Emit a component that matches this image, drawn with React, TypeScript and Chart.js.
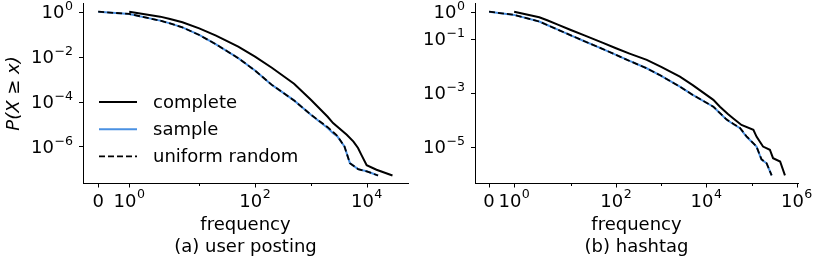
import React, { useEffect, useRef } from 'react';
import { Chart, registerables, LinearScale } from 'chart.js';

Chart.register(...registerables);

// ---------- data ----------
// (a) user posting
const A_COMPLETE_X = [1, 2, 3, 5, 10, 20, 50, 100, 200, 500, 1000, 2000, 2500, 4400, 5800, 7000, 8000, 10000, 15000, 29000];
const A_COMPLETE_Y = [1, 0.6, 0.47, 0.34, 0.18, 0.086, 0.028, 0.01, 0.0032, 6.2e-4, 1.2e-4, 2.1e-5, 1.1e-5, 3.3e-6, 1.65e-6, 8.5e-7, 4.3e-7, 1.45e-7, 9.2e-8, 5.1e-8];
const A_SAMPLE_X = [0, 1, 2, 3, 5, 10, 20, 50, 100, 200, 500, 1000, 2000, 2500, 3000, 4000, 5000, 7000, 10000, 16000];
const A_SAMPLE_Y = [1, 0.79, 0.4, 0.3, 0.2, 0.092, 0.035, 0.0085, 0.0024, 5.5e-4, 1.12e-4, 2.6e-5, 6.6e-6, 3.9e-6, 2.75e-6, 1.0e-6, 1.8e-7, 9.8e-8, 7.8e-8, 5.1e-8];
const A_UNIFORM_X = [0, 1, 2, 3, 5, 10, 20, 50, 100, 200, 500, 1000, 2000, 2500, 3000, 4000, 5000, 7000, 10000, 16000];
const A_UNIFORM_Y = [1, 0.79, 0.4, 0.3, 0.2, 0.092, 0.035, 0.0085, 0.0024, 5.5e-4, 1.12e-4, 2.6e-5, 7.2e-6, 4.4e-6, 2.9e-6, 1.0e-6, 1.8e-7, 9.8e-8, 7.8e-8, 5.1e-8];

// (b) hashtag
const B_COMPLETE_X = [1, 2, 3, 5, 10, 20, 50, 100, 200, 480, 1000, 2600, 5000, 14300, 20000, 30000, 39000, 60000, 110000, 130000, 180000, 255000, 300000, 430000, 550000];
const B_COMPLETE_Y = [1, 0.62, 0.48, 0.34, 0.21, 0.133, 0.071, 0.044, 0.028, 0.0163, 0.009, 0.0039, 0.0019, 5.4e-4, 3.0e-4, 1.6e-4, 1.12e-4, 6.3e-5, 4.2e-5, 2.3e-5, 1.0e-5, 7.6e-6, 3.7e-6, 2.8e-6, 8.5e-7];
const B_SAMPLE_X = [0, 1, 2, 3, 5, 10, 20, 50, 100, 200, 478, 1000, 2600, 5000, 14300, 28200, 40000, 55600, 77800, 129000, 166000, 216000, 279000];
const B_SAMPLE_Y = [1, 0.76, 0.43, 0.32, 0.22, 0.133, 0.08, 0.042, 0.025, 0.0149, 0.008, 0.0042, 0.00166, 8.2e-4, 3.0e-4, 9.8e-5, 6.7e-5, 4.8e-5, 2.3e-5, 1.0e-5, 3.3e-6, 2.4e-6, 8.5e-7];
const B_UNIFORM_X = [0, 1, 2, 3, 5, 10, 20, 50, 100, 200, 478, 1000, 2600, 5000, 14300, 28200, 40000, 55600, 77800, 129000, 166000, 216000, 279000];
const B_UNIFORM_Y = [1, 0.76, 0.43, 0.32, 0.22, 0.133, 0.08, 0.042, 0.025, 0.0149, 0.008, 0.0042, 0.00166, 8.2e-4, 3.0e-4, 1.0e-4, 6.9e-5, 4.9e-5, 2.4e-5, 1.0e-5, 3.4e-6, 2.4e-6, 8.5e-7];

// ticks
const A_X_MAJOR = [0, 1, 100, 10000];
const A_X_MINOR = [10, 1000];
const B_X_MAJOR = [0, 1, 100, 10000, 1000000];
const B_X_MINOR = [10, 1000, 100000];
const A_Y_TICKS = [1, 1e-2, 1e-4, 1e-6];
const B_Y_TICKS = [1, 1e-1, 1e-3, 1e-5];

const SERIES_LABELS = ['complete', 'sample', 'uniform random'];
const Y_TITLE = 'P(X ≥ x)';
const X_TITLE = 'frequency';
const SUBTITLES = ['(a) user posting', '(b) hashtag'];

// ---------- symlog scale (matplotlib style: linthresh=2, linscale=1, base 10) ----------
const LINTHRESH = 2;
const LIN_ADJ = 1 / (1 - 1 / 10);
function symT(v: number) {
  const a = Math.abs(v);
  const s = v < 0 ? -1 : 1;
  return a <= LINTHRESH ? v * LIN_ADJ : s * LINTHRESH * (LIN_ADJ + Math.log10(a / LINTHRESH));
}
function symInv(t: number) {
  const a = Math.abs(t);
  const s = t < 0 ? -1 : 1;
  return a <= LINTHRESH * LIN_ADJ ? t / LIN_ADJ : s * LINTHRESH * Math.pow(10, a / LINTHRESH - LIN_ADJ);
}

class SymlogScale extends LinearScale {
  static id = 'symlog';
  static defaults = {};
  buildTicks() {
    return [];
  }
  configure() {
    super.configure();
    (this as any)._t0 = symT(this.min);
    (this as any)._t1 = symT(this.max);
  }
  getPixelForValue(v: number) {
    const t0 = (this as any)._t0, t1 = (this as any)._t1;
    return this.getPixelForDecimal((symT(v) - t0) / (t1 - t0));
  }
  getValueForPixel(p: number) {
    const t0 = (this as any)._t0, t1 = (this as any)._t1;
    return symInv(t0 + this.getDecimalForPixel(p) * (t1 - t0));
  }
}
Chart.register(SymlogScale as any);

const FAMILY = "'DejaVu Sans', sans-serif";
Chart.defaults.font.family = FAMILY;
Chart.defaults.font.size = 18;
Chart.defaults.color = '#000';

function powParts(v: number): [string, string] {
  if (v === 0) return ['0', ''];
  const e = Math.round(Math.log10(v));
  return ['10', e < 0 ? '\u2212' + Math.abs(e) : String(e)];
}
function powLabel(v: number) {
  const [b, s] = powParts(v);
  return s ? b + '^' + s : b;
}

const BASE_SIZE = 18;
const SUP_SIZE = 12.6;
const SUP_RAISE = 8.4;

function drawPow(ctx: CanvasRenderingContext2D, v: number, x: number, baseline: number, align: 'center' | 'right') {
  const [b, s] = powParts(v);
  ctx.font = `${BASE_SIZE}px ${FAMILY}`;
  const wb = ctx.measureText(b).width;
  ctx.font = `${SUP_SIZE}px ${FAMILY}`;
  const ws = s ? ctx.measureText(s).width + 0.5 : 0;
  const total = wb + ws;
  const left = align === 'center' ? x - total / 2 : x - total;
  ctx.textAlign = 'left';
  ctx.textBaseline = 'alphabetic';
  ctx.font = `${BASE_SIZE}px ${FAMILY}`;
  ctx.fillText(b, left, baseline);
  if (s) {
    ctx.font = `${SUP_SIZE}px ${FAMILY}`;
    ctx.fillText(s, left + wb + 0.5, baseline - SUP_RAISE);
  }
}

const zip = (xs: number[], ys: number[]) => xs.map((x, i) => ({ x, y: ys[i] }));

const axisDecor = {
  id: 'axisDecor',
  afterDraw(chart: any) {
    const ctx = chart.ctx;
    ctx.save();
    ctx.strokeStyle = '#000';
    ctx.fillStyle = '#000';
    ctx.lineWidth = 1;
    const xs = chart.scales.x;
    xs.ticks.forEach((t: any) => {
      const px = Math.round(xs.getPixelForValue(t.value)) + 0.5;
      const len = t.minor ? 2.5 : 4;
      ctx.beginPath();
      ctx.moveTo(px, xs.top);
      ctx.lineTo(px, xs.top + len);
      ctx.stroke();
      if (!t.minor) drawPow(ctx, t.value, xs.getPixelForValue(t.value), xs.top + 23.2, 'center');
    });
    const ys = chart.scales.y;
    ys.ticks.forEach((t: any) => {
      const pyRaw = ys.getPixelForValue(t.value);
      const py = Math.round(pyRaw) + 0.5;
      ctx.beginPath();
      ctx.moveTo(ys.right, py);
      ctx.lineTo(ys.right - 4, py);
      ctx.stroke();
      drawPow(ctx, t.value, ys.right - 10, pyRaw + 6.5, 'right');
    });
    ctx.restore();
  },
};

const inlineLegend = {
  id: 'inlineLegend',
  afterDraw(chart: any, _args: any, opts: any) {
    if (!opts || !opts.show) return;
    const { ctx, chartArea } = chart;
    ctx.save();
    chart.data.datasets.forEach((ds: any, i: number) => {
      const y = chartArea.top + opts.top + i * opts.rowGap;
      ctx.beginPath();
      ctx.strokeStyle = ds.borderColor;
      ctx.lineWidth = ds.borderWidth;
      ctx.setLineDash(ds.borderDash || []);
      ctx.moveTo(chartArea.left + opts.lineStart, y);
      ctx.lineTo(chartArea.left + opts.lineEnd, y);
      ctx.stroke();
      ctx.setLineDash([]);
      ctx.fillStyle = '#000';
      ctx.font = `18px ${FAMILY}`;
      ctx.textBaseline = 'middle';
      ctx.textAlign = 'left';
      ctx.fillText(ds.label, chartArea.left + opts.textStart, y + 1);
    });
    ctx.restore();
  },
};

type PanelProps = {
  left: number;
  complete: [number[], number[]];
  sample: [number[], number[]];
  uniform: [number[], number[]];
  xMajor: number[];
  xMinor: number[];
  xMin: number;
  xMax: number;
  yTicks: number[];
  yMin: number;
  yMax: number;
  yTitle: boolean;
  subtitle: string;
  yWidth: number;
  padRight: number;
  legend: boolean;
};

function Panel(p: PanelProps) {
  const ref = useRef<HTMLCanvasElement>(null);
  useEffect(() => {
    if (!ref.current) return;
    const chart = new Chart(ref.current, {
      type: 'line',
      data: {
        datasets: [
          {
            label: SERIES_LABELS[0],
            data: zip(p.complete[0], p.complete[1]),
            borderColor: '#000000',
            borderWidth: 2,
            pointRadius: 0,
            tension: 0,
            order: 3,
          },
          {
            label: SERIES_LABELS[1],
            data: zip(p.sample[0], p.sample[1]),
            borderColor: '#4a90e2',
            borderWidth: 2,
            pointRadius: 0,
            tension: 0,
            order: 2,
          },
          {
            label: SERIES_LABELS[2],
            data: zip(p.uniform[0], p.uniform[1]),
            borderColor: '#000000',
            borderWidth: 1.8,
            borderDash: [6, 3],
            pointRadius: 0,
            tension: 0,
            order: 1,
          },
        ],
      } as any,
      options: {
        responsive: false,
        animation: false,
        devicePixelRatio: 1,
        events: [],
        layout: { padding: { left: 0, right: p.padRight, top: 3.5, bottom: 0 } },
        plugins: {
          legend: { display: false },
          tooltip: { enabled: false },
          inlineLegend: { show: p.legend, top: 98.5, rowGap: 27.2, lineStart: 16, lineEnd: 54, textStart: 70 },
        } as any,
        scales: {
          x: {
            type: 'symlog' as any,
            min: p.xMin,
            max: p.xMax,
            bounds: 'data',
            grid: { display: false },
            border: { display: true, color: '#000', width: 1 },
            ticks: {
              display: false,
              autoSkip: false,
              maxRotation: 0,
              minRotation: 0,
              callback: (value: any, index: number, ticks: any[]) => (ticks[index] && ticks[index].minor ? '' : powLabel(Number(value))),
            },
            afterBuildTicks: (s: any) => {
              const all = [
                ...p.xMajor.map((v) => ({ value: v, minor: false })),
                ...p.xMinor.map((v) => ({ value: v, minor: true })),
              ].sort((a, b) => a.value - b.value);
              s.ticks = all;
            },
            afterFit: (s: any) => {
              s.height = 76.5;
              s.paddingLeft = 0;
              s.paddingRight = 0;
            },
            title: {
              display: true,
              text: [X_TITLE, p.subtitle],
              color: '#000',
              font: { size: 18, lineHeight: 22 / 18 },
              padding: { top: 0, bottom: 2 },
            },
          } as any,
          y: {
            type: 'logarithmic',
            min: p.yMin,
            max: p.yMax,
            bounds: 'data',
            grid: { display: false },
            border: { display: true, color: '#000', width: 1 },
            ticks: {
              display: false,
              autoSkip: false,
              callback: (value: any) => powLabel(Number(value)),
            },
            afterBuildTicks: (s: any) => {
              s.ticks = [...p.yTicks].sort((a, b) => a - b).map((v) => ({ value: v }));
            },
            afterFit: (s: any) => {
              s.width = p.yWidth;
              s.paddingTop = 0;
              s.paddingBottom = 0;
            },
            title: {
              display: p.yTitle,
              text: Y_TITLE,
              color: '#000',
              font: { size: 18, style: 'italic' },
              padding: { top: 4, bottom: 0 },
            },
          } as any,
        },
      },
      plugins: [axisDecor, inlineLegend] as any,
    });
    return () => chart.destroy();
  }, []);
  return (
    <canvas
      ref={ref}
      width={411}
      height={260}
      style={{ position: 'absolute', left: p.left, top: 0, width: 411, height: 260, display: 'block' }}
    />
  );
}

export default function App() {
  return (
    <div style={{ position: 'fixed', left: 0, top: 0, width: 822, height: 260, background: '#fff', overflow: 'hidden' }}>
      <Panel
        left={0}
        complete={[A_COMPLETE_X, A_COMPLETE_Y]}
        sample={[A_SAMPLE_X, A_SAMPLE_Y]}
        uniform={[A_UNIFORM_X, A_UNIFORM_Y]}
        xMajor={A_X_MAJOR}
        xMinor={A_X_MINOR}
        xMin={-0.49}
        xMax={55000}
        yTicks={A_Y_TICKS}
        yMin={2.24e-8}
        yMax={2.31}
        yTitle={true}
        subtitle={SUBTITLES[0]}
        yWidth={83}
        padRight={3}
        legend={true}
      />
      <Panel
        left={411}
        complete={[B_COMPLETE_X, B_COMPLETE_Y]}
        sample={[B_SAMPLE_X, B_SAMPLE_Y]}
        uniform={[B_UNIFORM_X, B_UNIFORM_Y]}
        xMajor={B_X_MAJOR}
        xMinor={B_X_MINOR}
        xMin={-0.56}
        xMax={1070000}
        yTicks={B_Y_TICKS}
        yMin={4.27e-7}
        yMax={2.01}
        yTitle={false}
        subtitle={SUBTITLES[1]}
        yWidth={64}
        padRight={24}
        legend={false}
      />
    </div>
  );
}
